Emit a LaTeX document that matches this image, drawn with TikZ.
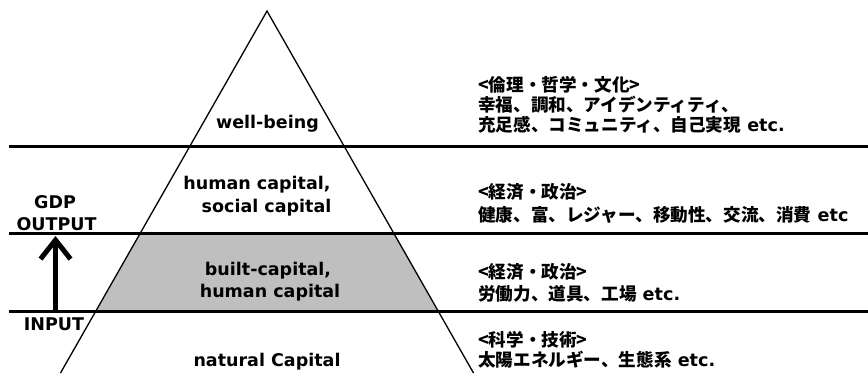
\documentclass[tikz,border=0pt]{standalone}
\usepackage{fontspec}
\setmainfont{DejaVu Sans}
\newfontfamily\jp{Noto Sans CJK JP}
\usetikzlibrary{arrows.meta}
\tikzset{
  lat/.style={font=\fontsize{17.5}{20}\selectfont\bfseries, inner sep=0pt, anchor=base},
  jpl/.style={font=\jp\fontsize{17.6}{20}\selectfont\bfseries, inner sep=0pt, anchor=base west},
  side/.style={line width=1.3pt, black},
  band/.style={line width=3pt, black},
  uparrow/.style={line width=5pt, -{Straight Barb[length=19pt,width=30pt]}},
}
\begin{document}
\begin{tikzpicture}[x=1pt,y=-1pt]
\useasboundingbox (0,0) rectangle (868,378);
% key points
\coordinate (apex) at (267,11);
\coordinate (lb) at (60.5,373);
\coordinate (rb) at (473.5,373);
\coordinate (g1) at (140.3,233);
\coordinate (g2) at (393.6,233);
\coordinate (g3) at (438.1,311);
\coordinate (g4) at (95.9,311);
\coordinate (l1a) at (9,146);  \coordinate (l1b) at (868,146);
\coordinate (l2a) at (9,233);  \coordinate (l2b) at (868,233);
\coordinate (l3a) at (9,311);  \coordinate (l3b) at (868,311);
\coordinate (ain) at (55.5,310);
\coordinate (aout) at (55.5,236);
% gray band
\fill[fill={rgb,255:red,191;green,191;blue,191}] (g1) -- (g2) -- (g3) -- (g4) -- cycle;
% pyramid sides
\draw[side] (lb) -- (apex) -- (rb);
% horizontal bands
\draw[band] (l1a) -- (l1b);
\draw[band] (l2a) -- (l2b);
\draw[band] (l3a) -- (l3b);
% arrow
\draw[uparrow] (ain) -- (aout);
% centre labels
\node[lat] (wb) at (267.5,128) {well-being};
\node[lat] (hc1) at (257,189) {human capital,};
\node[lat] (sc1) at (266.5,212) {social capital};
\node[lat] (bc1) at (268,275) {built-capital,};
\node[lat] (hc2) at (270,297) {human capital};
\node[lat] (nc) at (267,366) {natural Capital};
% left labels
\node[lat] (gdp) at (55,208) {GDP};
\node[lat] (out) at (56.5,230) {OUTPUT};
\node[lat] (inp) at (54,330) {INPUT};
% right texts
\node[jpl] (r11) at (478,91) {<倫理・哲学・文化>};
\node[jpl] (r12) at (478,111) {幸福、調和、アイデンティティ、};
\node[jpl] (r13) at (478,131) {充足感、コミュニティ、自己実現{\rmfamily\ etc.}};
\node[jpl] (r21) at (478,198) {<経済・政治>};
\node[jpl] (r22) at (478,221) {健康、富、レジャー、移動性、交流、消費{\rmfamily\ etc}};
\node[jpl] (r31) at (478,278) {<経済・政治>};
\node[jpl] (r32) at (478,300) {労働力、道具、工場{\rmfamily\ etc.}};
\node[jpl] (r41) at (478,346) {<科学・技術>};
\node[jpl] (r42) at (478,366) {太陽エネルギー、生態系{\rmfamily\ etc.}};
\end{tikzpicture}
\end{document}
